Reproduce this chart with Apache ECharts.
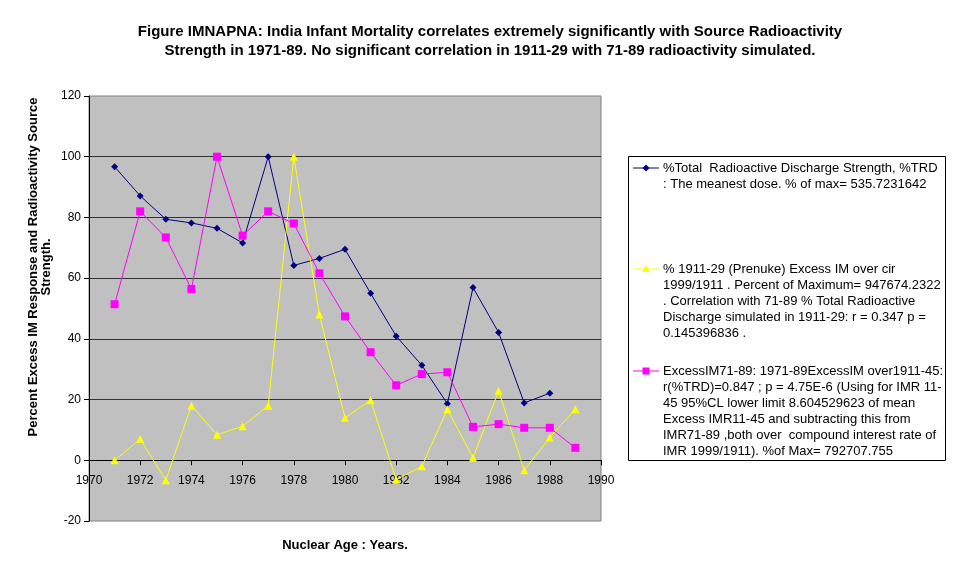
<!DOCTYPE html>
<html><head><meta charset="utf-8">
<script src="https://cdn.jsdelivr.net/npm/echarts@6/dist/echarts.min.js"></script>
<style>html,body{margin:0;padding:0;background:#fff}#c{width:955px;height:571px}</style>
</head><body><div id="c"></div>
<script>
var years = [1971,1972,1973,1974,1975,1976,1977,1978,1979,1980,1981,1982,1983,1984,1985,1986,1987,1988,1989];
var trd = [96.7,87.1,79.4,78.2,76.4,71.6,100,64.2,66.5,69.5,55.0,40.9,31.3,18.6,56.9,42.1,18.9,22.1,null];
var prenuke = [0,7.0,-6.6,18.0,8.4,11.2,18.0,100,48.0,14.0,19.8,-6.4,-2.0,16.8,0.8,22.9,-3.3,7.5,16.8];
var excessIM = [51.4,82.0,73.4,56.4,100,74.0,82.0,78.0,61.6,47.4,35.6,24.7,28.4,29.0,11.0,11.9,10.7,10.7,4.1];
var seriesNames = [
  '%Total  Radioactive Discharge Strength, %TRD\n: The meanest dose. % of max= 535.7231642',
  '% 1911-29 (Prenuke) Excess IM over cir\n1999/1911 . Percent of Maximum= 947674.2322\n. Correlation with 71-89 % Total Radioactive\nDischarge simulated in 1911-29: r = 0.347 p =\n0.145396836 .',
  'ExcessIM71-89: 1971-89ExcessIM over1911-45:\nr(%TRD)=0.847 ; p = 4.75E-6 (Using for IMR 11-\n45 95%CL lower limit 8.604529623 of mean\nExcess IMR11-45 and subtracting this from\nIMR71-89 ,both over  compound interest rate of\nIMR 1999/1911). %of Max= 792707.755'
];
var titleText = 'Figure IMNAPNA: India Infant Mortality correlates extremely significantly with Source Radioactivity\nStrength in 1971-89. No significant correlation in 1911-29 with 71-89 radioactivity simulated.';
var yName = 'Percent Excess IM Response and Radioactivity Source\nStrength.';
var xName = 'Nuclear Age : Years.';

function pairs(v){ return years.map(function(y,i){ return [y, v[i]]; }); }

var font = 'Liberation Sans, Arial, sans-serif';
var colors = ['#000080','#ffff00','#ff00ff'];
var symbols = ['diamond','triangle','rect'];
var symSizes = [7,8,8];
var legendTops = [168,269,371];

var chart = echarts.init(document.getElementById('c'));

var graphics = [
  {type:'rect', shape:{x:628.5,y:156.5,width:317,height:304}, style:{fill:'#fff',stroke:'#000',lineWidth:1}, z:10},
  {type:'text', x:40, y:267, rotation:Math.PI/2, style:{text:yName, font:'bold 13px '+font, fill:'#000', align:'center', verticalAlign:'middle', lineHeight:13}, z:10}
];
var symPaths = {
  diamond: function(cx,cy){return {type:'polygon', shape:{points:[[cx,cy-3.5],[cx+3.5,cy],[cx,cy+3.5],[cx-3.5,cy]]}};},
  triangle: function(cx,cy){return {type:'polygon', shape:{points:[[cx,cy-4],[cx+4,cy+3],[cx-4,cy+3]]}};},
  rect: function(cx,cy){return {type:'rect', shape:{x:cx-3.5,y:cy-3.5,width:7,height:7}};}
};
for (var i=0;i<3;i++){
  var ty = legendTops[i];
  graphics.push({type:'line', shape:{x1:633,y1:ty,x2:659,y2:ty}, style:{stroke:colors[i],lineWidth:1}, z:11});
  var s = symPaths[symbols[i]](646,ty); s.style={fill:colors[i]}; s.z=12; graphics.push(s);
  graphics.push({type:'text', x:663, y:ty-8, style:{text:seriesNames[i], font:'13px '+font, fill:'#000', lineHeight:16, verticalAlign:'top'}, z:11});
}

var series = [trd, prenuke, excessIM].map(function(v,i){
  return {name:seriesNames[i], type:'line', data:pairs(v), symbol:symbols[i], symbolSize:symSizes[i],
    showSymbol:true, connectNulls:false, animation:false,
    lineStyle:{color:colors[i], width:1}, itemStyle:{color:colors[i]}};
});

chart.setOption({
  animation:false,
  backgroundColor:'#fff',
  title:{text:titleText, left:485, top:17, textAlign:'center',
    textStyle:{fontFamily:font, fontSize:15, fontWeight:'bold', color:'#000', lineHeight:19}},
  grid:{left:89, right:354, top:96, bottom:50, show:true, containLabel:false, outerBoundsMode:'none',
    backgroundColor:'#c0c0c0', borderColor:'#808080', borderWidth:1},
  xAxis:{type:'value', min:1970, max:1990, interval:2,
    name:xName, nameLocation:'middle', nameGap:18,
    nameTextStyle:{fontFamily:font, fontSize:13, fontWeight:'bold', color:'#000'},
    axisLine:{onZero:true, lineStyle:{color:'#000', width:1}},
    axisTick:{show:true, length:5, inside:false, lineStyle:{color:'#000'}},
    axisLabel:{fontFamily:font, fontSize:12, color:'#000', margin:-46, formatter:function(v){return String(v);}},
    splitLine:{show:false}},
  yAxis:{type:'value', min:-20, max:120, interval:20,
    axisLine:{show:true, onZero:false, lineStyle:{color:'#000', width:1}},
    axisTick:{show:true, length:5, lineStyle:{color:'#000'}},
    axisLabel:{fontFamily:font, fontSize:12, color:'#000', margin:8},
    splitLine:{show:true, showMinLine:false, showMaxLine:false, lineStyle:{color:'#333', width:1}}},
  series:series,
  graphic:graphics
});
</script></body></html>
